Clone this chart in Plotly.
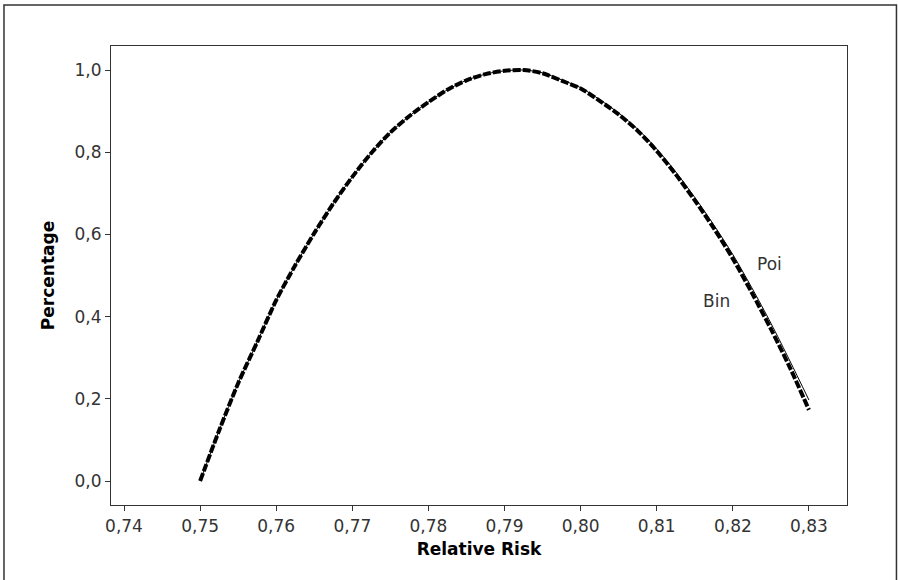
import plotly.graph_objects as go

# Relative risk grid (x) and curve values
relative_risk = [0.7500, 0.7525, 0.7550, 0.7575, 0.7600, 0.7625, 0.7650, 0.7675,
                 0.7700, 0.7725, 0.7750, 0.7775, 0.7800, 0.7825, 0.7850, 0.7875,
                 0.7900, 0.7925, 0.7950, 0.7975, 0.8000, 0.8025, 0.8050, 0.8075,
                 0.8100, 0.8125, 0.8150, 0.8175, 0.8200, 0.8225, 0.8250, 0.8275,
                 0.8300]

bin_values = [0.000, 0.123, 0.238, 0.338, 0.440, 0.525, 0.603, 0.675,
              0.740, 0.798, 0.848, 0.888, 0.922, 0.952, 0.975, 0.990,
              0.998, 1.000, 0.992, 0.974, 0.955, 0.925, 0.892, 0.852,
              0.803, 0.746, 0.683, 0.615, 0.541, 0.458, 0.370, 0.276,
              0.173]

poi_values = [0.000, 0.123, 0.238, 0.338, 0.440, 0.525, 0.603, 0.675,
              0.740, 0.798, 0.848, 0.888, 0.922, 0.952, 0.975, 0.990,
              0.998, 1.000, 0.993, 0.976, 0.957, 0.928, 0.895, 0.856,
              0.808, 0.752, 0.690, 0.623, 0.551, 0.470, 0.384, 0.292,
              0.197]

x_ticks = [0.74, 0.75, 0.76, 0.77, 0.78, 0.79, 0.80, 0.81, 0.82, 0.83]
x_tick_labels = ["0,74", "0,75", "0,76", "0,77", "0,78", "0,79", "0,80", "0,81", "0,82", "0,83"]
y_ticks = [0.0, 0.2, 0.4, 0.6, 0.8, 1.0]
y_tick_labels = ["0,0", "0,2", "0,4", "0,6", "0,8", "1,0"]

FONT = "DejaVu Sans"
TXT = "#333333"

fig = go.Figure()
fig.add_trace(go.Scatter(x=relative_risk, y=bin_values, mode="lines", name="Bin",
                         line=dict(color="black", width=4, dash="8px,2px",
                                   shape="spline", smoothing=0.8)))
fig.add_trace(go.Scatter(x=relative_risk, y=poi_values, mode="lines", name="Poi",
                         line=dict(color="black", width=1, shape="spline", smoothing=0.8)))

fig.add_annotation(x=0.82488, y=0.529, text="Poi", showarrow=False,
                   font=dict(family=FONT, size=17, color=TXT))
fig.add_annotation(x=0.81785, y=0.439, text="Bin", showarrow=False,
                   font=dict(family=FONT, size=17, color=TXT))

# outer frame around the whole graph
fig.add_shape(type="rect", xref="paper", yref="paper",
              x0=-0.1454, x1=1.0672, y0=-0.19, y1=1.0893,
              line=dict(color="#333333", width=1.5), fillcolor="rgba(0,0,0,0)")

fig.update_layout(
    width=898, height=580,
    margin=dict(l=111, r=51, t=46, b=75, autoexpand=False),
    paper_bgcolor="white", plot_bgcolor="white",
    showlegend=False,
    font=dict(family=FONT, size=17, color=TXT),
)
fig.update_xaxes(
    range=[0.73829, 0.835], tickvals=x_ticks, ticktext=x_tick_labels,
    showgrid=False, zeroline=False, showline=True, mirror=True,
    linecolor="#333333", linewidth=1.2,
    ticks="outside", ticklen=5, tickcolor="#333333", tickwidth=1.2,
    tickfont=dict(family=FONT, size=17, color=TXT),
    title=dict(text="<b>Relative Risk</b>", standoff=8,
               font=dict(family=FONT, size=17, color="black")),
)
fig.update_yaxes(
    range=[-0.0584, 1.0584], tickvals=y_ticks, ticktext=y_tick_labels,
    showgrid=False, zeroline=False, showline=True, mirror=True,
    linecolor="#333333", linewidth=1.2,
    ticks="outside", ticklen=5, tickcolor="#333333", tickwidth=1.2,
    tickfont=dict(family=FONT, size=17, color=TXT),
    title=dict(text="<b>Percentage</b>", standoff=15,
               font=dict(family=FONT, size=17, color="black")),
)

fig.write_html("out.html")
